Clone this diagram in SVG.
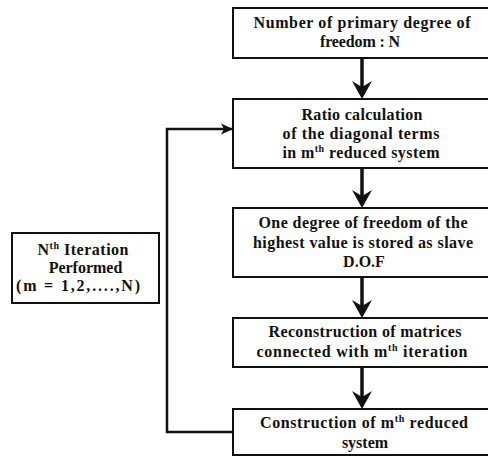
<svg xmlns="http://www.w3.org/2000/svg" width="488" height="459" viewBox="0 0 488 459">
<style>
.box{fill:#fff;stroke:#111;stroke-width:2}
.t{font-family:"Liberation Serif","Times New Roman",serif;font-weight:bold;font-size:16px;fill:#111;text-anchor:middle}
.sup{font-size:10px}
.conn{fill:none;stroke:#111}
</style>
<defs>
<marker id="big" viewBox="-18 -10 19 20" markerWidth="19" markerHeight="20" refX="0" refY="0" markerUnits="userSpaceOnUse" orient="auto">
<path d="M0,0 L-18,-10 L-12,0 L-18,10 Z" fill="#111"/>
</marker>
<marker id="small" viewBox="-12 -6 12 12" markerWidth="12" markerHeight="12" refX="0" refY="0" markerUnits="userSpaceOnUse" orient="auto">
<path d="M0,0 L-12,-5.5 L-9,0 L-12,5.5 Z" fill="#111"/>
</marker>
</defs>
<rect width="488" height="459" fill="#fff"/>
<g id="connectors">
<line class="conn" x1="362" y1="58" x2="362" y2="92" stroke-width="3.5"/>
<line class="conn" x1="362" y1="86" x2="362" y2="99" stroke-width="0.1" marker-end="url(#big)"/>
<line class="conn" x1="362" y1="168" x2="362" y2="201" stroke-width="3.5"/>
<line class="conn" x1="362" y1="195" x2="362" y2="208" stroke-width="0.1" marker-end="url(#big)"/>
<line class="conn" x1="362" y1="277" x2="362" y2="311" stroke-width="3.5"/>
<line class="conn" x1="362" y1="305" x2="362" y2="318" stroke-width="0.1" marker-end="url(#big)"/>
<line class="conn" x1="362" y1="367" x2="362" y2="402" stroke-width="3.5"/>
<line class="conn" x1="362" y1="396" x2="362" y2="409" stroke-width="0.1" marker-end="url(#big)"/>
<polyline class="conn" points="233,432 167,432 167,129 233,129" stroke-width="2.5" marker-end="url(#small)"/>
</g>
<g id="n1">
<rect class="box" x="233" y="8" width="262" height="50"/>
<text class="t" x="362" y="28" textLength="217" lengthAdjust="spacing">Number of primary degree of</text>
<text class="t" x="360" y="47" textLength="80" lengthAdjust="spacing">freedom : N</text>
</g>
<g id="n2">
<rect class="box" x="233" y="99" width="262" height="69"/>
<text class="t" x="362" y="120" textLength="121" lengthAdjust="spacing">Ratio calculation</text>
<text class="t" x="361" y="139" textLength="157" lengthAdjust="spacing">of the diagonal terms</text>
<text class="t" x="361" y="158" textLength="157" lengthAdjust="spacing">in m<tspan class="sup" dy="-6">th</tspan><tspan dy="6"> reduced system</tspan></text>
</g>
<g id="n3">
<rect class="box" x="233" y="208" width="262" height="69"/>
<text class="t" x="363" y="228" textLength="209" lengthAdjust="spacing">One degree of freedom of the</text>
<text class="t" x="363" y="248" textLength="220" lengthAdjust="spacing">highest value is stored as slave</text>
<text class="t" x="364" y="267">D.O.F</text>
</g>
<g id="n4">
<rect class="box" x="233" y="318" width="262" height="49"/>
<text class="t" x="365" y="337" textLength="193" lengthAdjust="spacing">Reconstruction of matrices</text>
<text class="t" x="362" y="357" textLength="211" lengthAdjust="spacing">connected with m<tspan class="sup" dy="-6">th</tspan><tspan dy="6">  iteration</tspan></text>
</g>
<g id="n5">
<rect class="box" x="233" y="409" width="262" height="46"/>
<text class="t" x="364" y="428" textLength="208" lengthAdjust="spacing">Construction of m<tspan class="sup" dy="-6">th</tspan><tspan dy="6">  reduced</tspan></text>
<text class="t" x="365" y="448">system</text>
</g>
<g id="n6">
<rect class="box" x="12" y="233" width="147" height="70"/>
<text class="t" x="83" y="255" textLength="91" lengthAdjust="spacing">N<tspan class="sup" dy="-6">th</tspan><tspan dy="6"> Iteration</tspan></text>
<text class="t" x="85.5" y="273">Performed</text>
<text class="t" x="78" y="291" textLength="124" lengthAdjust="spacing">(m = 1,2,....,N)</text>
</g>
</svg>
